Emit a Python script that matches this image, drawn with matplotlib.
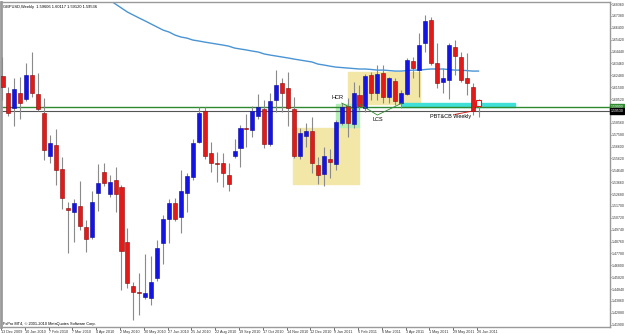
import matplotlib.pyplot as plt
import numpy as np

# Weekly GBPUSD candles, 13 Dec 2009 .. 26 Jun 2011 (one per week)
opens = [1.6242, 1.6102, 1.5978, 1.6102, 1.6052, 1.6250, 1.6093, 1.5937, 1.5582, 1.5673,
         1.5475, 1.5153, 1.5120, 1.5169, 1.4996, 1.4914, 1.5277, 1.5450, 1.5268, 1.5384,
         1.5326, 1.4872, 1.4509, 1.4460, 1.4419, 1.4410, 1.4575, 1.4864, 1.5062, 1.5194,
         1.5079, 1.5277, 1.5409, 1.5697, 1.5953, 1.5607, 1.5524, 1.5524, 1.5425, 1.5582,
         1.5648, 1.5813, 1.5796, 1.5912, 1.5970, 1.5681, 1.6044, 1.6184, 1.6143, 1.5970,
         1.5582, 1.5747, 1.5788, 1.5508, 1.5433, 1.5557, 1.5516, 1.5854, 1.5994, 1.5846,
         1.6085, 1.5978, 1.6250, 1.6102, 1.6267, 1.6069, 1.6201, 1.6019, 1.6093, 1.6366,
         1.6291, 1.6514, 1.6704, 1.6349, 1.6192, 1.6209, 1.6481, 1.6399, 1.6225, 1.6151,
         1.6044]
highs = [1.6399, 1.6151, 1.6225, 1.6234, 1.6349, 1.6440, 1.6267, 1.6060, 1.5755, 1.5805,
         1.5574, 1.5202, 1.5227, 1.5376, 1.5054, 1.5293, 1.5516, 1.5524, 1.5425, 1.5491,
         1.5343, 1.4988, 1.4542, 1.4617, 1.4773, 1.4757, 1.4889, 1.5095, 1.5227, 1.5235,
         1.5466, 1.5442, 1.5722, 1.5986, 1.5986, 1.5697, 1.5615, 1.5607, 1.5524, 1.5722,
         1.5838, 1.5929, 1.5994, 1.6093, 1.6044, 1.6102, 1.6291, 1.6225, 1.6275, 1.6069,
         1.5813, 1.5854, 1.5904, 1.5574, 1.5656, 1.5640, 1.5879, 1.6019, 1.6060, 1.6192,
         1.6168, 1.6258, 1.6275, 1.6333, 1.6333, 1.6234, 1.6225, 1.6126, 1.6390, 1.6399,
         1.6597, 1.6745, 1.6729, 1.6514, 1.6308, 1.6514, 1.6539, 1.6440, 1.6432, 1.6184,
         1.6052]
lows = [1.6044, 1.5912, 1.5829, 1.5887, 1.6036, 1.6069, 1.5953, 1.5549, 1.5524, 1.5343,
        1.5145, 1.4782, 1.4872, 1.4971, 1.4790, 1.4897, 1.5128, 1.5334, 1.5244, 1.5120,
        1.4476, 1.4493, 1.4229, 1.4270, 1.4402, 1.4353, 1.4551, 1.4691, 1.4864, 1.5046,
        1.4947, 1.5120, 1.5384, 1.5689, 1.5557, 1.5450, 1.5367, 1.5326, 1.5293, 1.5565,
        1.5491, 1.5656, 1.5739, 1.5887, 1.5648, 1.5664, 1.5945, 1.5945, 1.5829, 1.5565,
        1.5557, 1.5656, 1.5442, 1.5351, 1.5334, 1.5400, 1.5466, 1.5838, 1.5739, 1.5813,
        1.5961, 1.5945, 1.6044, 1.6044, 1.6019, 1.6019, 1.6003, 1.5978, 1.6085, 1.6225,
        1.6069, 1.6440, 1.6333, 1.6143, 1.6102, 1.6052, 1.6250, 1.6192, 1.6085, 1.5920,
        1.5904]
closes = [1.6151, 1.5937, 1.6135, 1.6019, 1.6250, 1.6102, 1.5970, 1.5631, 1.5689, 1.5466,
          1.5235, 1.5136, 1.5194, 1.5004, 1.4897, 1.5202, 1.5359, 1.5359, 1.5367, 1.5268,
          1.4798, 1.4534, 1.4460, 1.4452, 1.4452, 1.4542, 1.4823, 1.5062, 1.5194, 1.5062,
          1.5293, 1.5417, 1.5689, 1.5937, 1.5582, 1.5524, 1.5516, 1.5442, 1.5351, 1.5623,
          1.5813, 1.5805, 1.5953, 1.5986, 1.5681, 1.6036, 1.6168, 1.6102, 1.5978, 1.5582,
          1.5772, 1.5788, 1.5524, 1.5425, 1.5582, 1.5532, 1.5862, 1.5986, 1.5854, 1.6102,
          1.5994, 1.6242, 1.6102, 1.6258, 1.6069, 1.6225, 1.6036, 1.6102, 1.6374, 1.6308,
          1.6498, 1.6696, 1.6349, 1.6184, 1.6225, 1.6498, 1.6407, 1.6209, 1.6184, 1.5953,
          1.5994]

# moving average, visible from week 17 on
ma_start = 17
ma_values = [1.6902, 1.6869, 1.6836, 1.6803, 1.6770, 1.6745, 1.6720, 1.6696, 1.6671, 1.6646,
             1.6621, 1.6605, 1.6580, 1.6564, 1.6555, 1.6539, 1.6531, 1.6522, 1.6514, 1.6506,
             1.6498, 1.6489, 1.6473, 1.6465, 1.6457, 1.6448, 1.6440, 1.6424, 1.6415, 1.6407,
             1.6399, 1.6391, 1.6382, 1.6374, 1.6366, 1.6358, 1.6341, 1.6333, 1.6324, 1.6316,
             1.6312, 1.6308, 1.6304, 1.6300, 1.6300, 1.6296, 1.6291, 1.6291, 1.6287, 1.6283,
             1.6283, 1.6287, 1.6291, 1.6291, 1.6296, 1.6300, 1.6300, 1.6300, 1.6296, 1.6291,
             1.6291, 1.6287, 1.6283, 1.6283]

date_labels = ['13 Dec 2009', '10 Jan 2010', '7 Feb 2010', '7 Mar 2010', '4 Apr 2010',
               '2 May 2010', '30 May 2010', '27 Jun 2010', '25 Jul 2010', '22 Aug 2010',
               '19 Sep 2010', '17 Oct 2010', '14 Nov 2010', '12 Dec 2010', '9 Jan 2011',
               '6 Feb 2011', '6 Mar 2011', '3 Apr 2011', '1 May 2011', '29 May 2011',
               '26 Jun 2011']

bid_price = 1.5990
ask_line = 1.5953

plt.rcParams['font.family'] = ['Liberation Sans', 'DejaVu Sans']

fig = plt.figure(figsize=(6.25, 3.34), dpi=100)
ax = fig.add_axes([0.0016, 0.021, 0.9744, 0.973])

n = len(opens)
x = np.arange(n)
o = np.array(opens)
h = np.array(highs)
l = np.array(lows)
c = np.array(closes)

# highlighted zones
ax.add_patch(plt.Rectangle((48.9, 1.5351), 11.1, 0.0462, color='#f2e7a6', zorder=0))
ax.add_patch(plt.Rectangle((58.1, 1.6011), 12.1, 0.0264, color='#f2e7a6', zorder=0))
ax.add_patch(plt.Rectangle((56.1, 1.5821), 3.9, 0.0190, color='#b4f0b4', zorder=0))
ax.add_patch(plt.Rectangle((67.2, 1.5986), 19.0, 0.0033, color='#40e0d8', zorder=0))

# horizontal lines
ax.axhline(bid_price, color='#2f8a2f', lw=1.0, zorder=1)
ax.axhline(ask_line, color='#555555', lw=0.8, zorder=1)

# moving average
ax.plot(np.arange(ma_start, ma_start + len(ma_values)), ma_values,
        color='#4a94d4', lw=1.0, zorder=2)

# wicks
ax.vlines(x, l, h, color='#8a8a8a', lw=0.8, zorder=3)

# bodies
up = c > o
body_h = np.maximum(np.abs(c - o), 0.0003)
bottoms = np.minimum(o, c)
ax.bar(x[up], body_h[up], bottom=bottoms[up], width=0.68,
       color='#1414e6', edgecolor='#0a0a9a', linewidth=0.4, zorder=4)
down = ~up
down[-1] = False
ax.bar(x[down], body_h[down], bottom=bottoms[down], width=0.68,
       color='#e31a1a', edgecolor='#8a0a0a', linewidth=0.4, zorder=4)
ax.bar(x[-1], body_h[-1], bottom=bottoms[-1], width=0.68,
       color='white', edgecolor='#e31a1a', linewidth=0.8, zorder=4)

# short line at the top right
ax.plot([76, 80], [1.6850, 1.6850], color='black', lw=1.2, zorder=2)

# HCR / LCS drawings
ax.text(55.3, 1.6069, 'HCR', fontsize=4.0, ha='left', va='center', zorder=6)
ax.plot([57.0, 59.0], [1.6019, 1.5970], color='#2f8a2f', lw=0.6, zorder=5)
ax.plot([60.0, 63.0, 67.2], [1.6011, 1.5920, 1.6020], color='#2f8a2f', lw=0.6, zorder=5)
ax.text(63.0, 1.5880, 'LCS', fontsize=4.0, ha='center', va='center', zorder=6)

# PBT&CB label
ax.plot([76.0, 79.0], [1.5925, 1.5953], color='#d01010', lw=0.6, zorder=5)
ax.text(71.9, 1.5904, 'PBT&CB Weekly', fontsize=4.0, ha='left', va='center', zorder=6)

# info texts
ax.text(0.003, 0.992, 'GBPUSD,Weekly  1.59606 1.60117 1.59120 1.59536', transform=ax.transAxes,
        fontsize=2.9, ha='left', va='top')
ax.text(0.003, 0.004, 'FxPro MT4, \u00a9 2001-2010 MetaQuotes Software Corp.',
        transform=ax.transAxes, fontsize=2.8, ha='left', va='bottom')

ax.set_xlim(-0.084, 102.1)
ax.set_ylim(1.4171, 1.6853)

# axes
ax.yaxis.tick_right()
yt = 1.6836 - 0.0098 * np.arange(28)
ylabels = ['%.5f' % v for v in yt]
ylabels[9] = ''  # hidden behind the ask price box
ax.set_yticks(yt)
ax.set_yticklabels(ylabels)
ax.set_xticks(np.arange(0, n, 4) - 0.25)
ax.set_xticklabels(date_labels)
for lbl in ax.get_xticklabels():
    lbl.set_ha('left')
ax.tick_params(axis='y', labelsize=2.5, length=1, width=0.5, pad=0.5, colors='#333333')
ax.tick_params(axis='x', labelsize=2.7, length=2, width=0.5, pad=0.3, colors='#333333')
for s in ax.spines.values():
    s.set_color('#9a9a9a')
    s.set_linewidth(1.0)
ax.spines['left'].set_linewidth(2.0)

# price labels on the right axis
ax.text(1.0015, bid_price, '%.5f' % bid_price, transform=ax.get_yaxis_transform(),
        fontsize=2.5, color='white', va='center', ha='left',
        bbox=dict(boxstyle='square,pad=0.2', fc='#2f8a2f', ec='#2f8a2f'))
ax.text(1.0015, ask_line, '%.5f' % ask_line, transform=ax.get_yaxis_transform(),
        fontsize=2.5, color='white', va='center', ha='left',
        bbox=dict(boxstyle='square,pad=0.2', fc='black', ec='black'))

fig.savefig('out.png', dpi=100)
